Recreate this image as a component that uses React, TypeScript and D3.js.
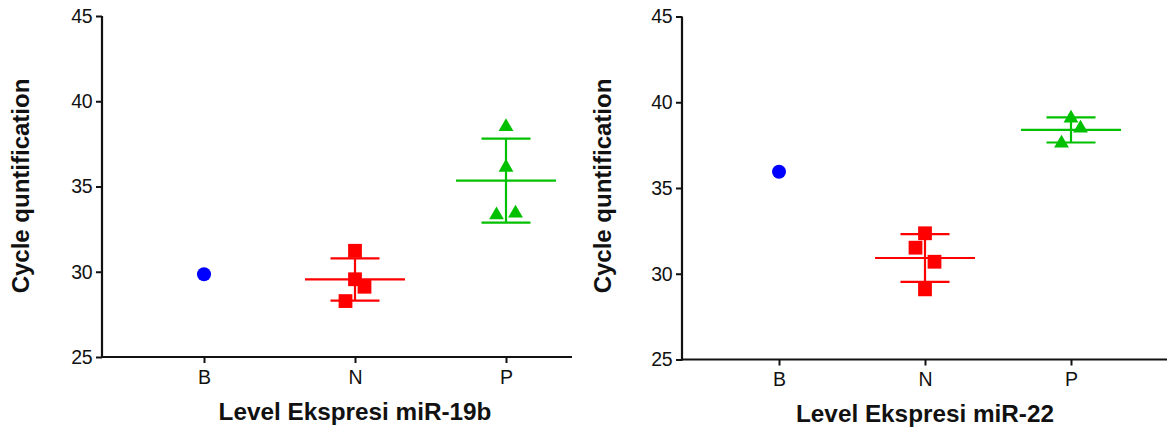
import React, { useEffect, useRef } from 'react';
import * as d3 from 'd3';

const FONT = '"Liberation Sans", Arial, Helvetica, sans-serif';

// categories and axis ticks
const categories = ['B', 'N', 'P'];
const yTicks = [25, 30, 35, 40, 45];

// miR-19b values (Cq)
const mir19bB = [29.85];
const mir19bN = [31.23, 29.56, 29.12, 28.28];
const mir19bP = [38.5, 36.12, 33.33, 33.43];

// miR-22 values (Cq)
const mir22B = [35.95];
const mir22N = [32.36, 31.52, 30.7, 29.09];
const mir22P = [39.07, 38.48, 37.61];

// column scatter slots (-1 left, 0 centre, 1 right)
const jit19bN = [0, 0, 1, -1];
const jit19bP = [0, 0, -1, 1];
const jit22N = [0, -1, 1, 0];
const jit22P = [0, 1, -1];

const colors = ['#0000ff', '#ff0000', '#00c000'];
const shapes = ['circle', 'square', 'triangle'];

const panels = [
  {
    title: 'Level Ekspresi miR-19b',
    axisX: 102, axisEnd: 572, top: 16, bottom: 357,
    catStart: 204, catEnd: 506, yTitleX: 29, xTitleY: 420,
    values: [mir19bB, mir19bN, mir19bP],
    jitter: [[0], jit19bN, jit19bP],
  },
  {
    title: 'Level Ekspresi miR-22',
    axisX: 682, axisEnd: 1167, top: 16.5, bottom: 359.5,
    catStart: 779, catEnd: 1071, yTitleX: 611, xTitleY: 422,
    values: [mir22B, mir22N, mir22P],
    jitter: [[0], jit22N, jit22P],
  },
];

const squarePath = d3.symbol().type(d3.symbolSquare).size(190)();
const trianglePath = d3.symbol().type(d3.symbolTriangle).size(95)();

function Marker({ shape, cx, cy, color }: any) {
  if (shape === 'circle') return <circle cx={cx} cy={cy} r={7} fill={color} />;
  const d = shape === 'square' ? squarePath : trianglePath;
  return <path d={d as string} transform={`translate(${cx},${cy})`} fill={color} />;
}

function Panel({ cfg }: any) {
  const xRef = useRef<SVGGElement>(null);
  const yRef = useRef<SVGGElement>(null);

  const x = d3.scalePoint<string>().domain(categories).range([cfg.catStart, cfg.catEnd]);
  const y = d3.scaleLinear()
    .domain([yTicks[0], yTicks[yTicks.length - 1]])
    .range([cfg.bottom, cfg.top]);
  const jitterStep = 9.5;
  const meanHalf = 50;
  const capHalf = 24.5;

  useEffect(() => {
    const gx = d3.select(xRef.current!)
      .call(d3.axisBottom(x).tickSize(6).tickPadding(7).tickSizeOuter(0) as any);
    gx.select('.domain').remove();
    gx.selectAll('line').attr('stroke', '#111').attr('stroke-width', 2);
    gx.selectAll('text').attr('font-size', 19.5).attr('font-family', FONT).attr('fill', '#111');

    const gy = d3.select(yRef.current!)
      .call(d3.axisLeft(y).tickValues(yTicks).tickSize(6).tickPadding(4).tickSizeOuter(0) as any);
    gy.select('.domain').remove();
    gy.selectAll('line').attr('stroke', '#111').attr('stroke-width', 2);
    gy.selectAll('text').attr('font-size', 19.5).attr('font-family', FONT).attr('fill', '#111')
      .attr('letter-spacing', -0.5);
  }, []);

  return (
    <g>
      {/* axis lines */}
      <line x1={cfg.axisX} y1={cfg.top} x2={cfg.axisX} y2={cfg.bottom + 1} stroke="#111" strokeWidth={2.2} />
      <line x1={cfg.axisX - 1} y1={cfg.bottom} x2={cfg.axisEnd} y2={cfg.bottom} stroke="#111" strokeWidth={2.2} />
      <g ref={xRef} transform={`translate(0,${cfg.bottom})`} />
      <g ref={yRef} transform={`translate(${cfg.axisX},0)`} />

      {categories.map((cat, i) => {
        const vals: number[] = cfg.values[i];
        const cx = x(cat)!;
        const m = d3.mean(vals)!;
        const sd = d3.deviation(vals);
        return (
          <g key={cat}>
            {sd !== undefined && (
              <g stroke={colors[i]} strokeWidth={2.2}>
                <line x1={cx} x2={cx} y1={y(m + sd)} y2={y(m - sd)} />
                <line x1={cx - capHalf} x2={cx + capHalf} y1={y(m + sd)} y2={y(m + sd)} />
                <line x1={cx - capHalf} x2={cx + capHalf} y1={y(m - sd)} y2={y(m - sd)} />
                <line x1={cx - meanHalf} x2={cx + meanHalf} y1={y(m)} y2={y(m)} />
              </g>
            )}
            {vals.map((v, j) => (
              <Marker key={j} shape={shapes[i]} color={colors[i]}
                cx={cx + cfg.jitter[i][j] * jitterStep} cy={y(v)} />
            ))}
          </g>
        );
      })}

      <text x={(x('N') as number)} y={cfg.xTitleY} textAnchor="middle" fontFamily={FONT}
        fontWeight="bold" fontSize={24.3} fill="#111">{cfg.title}</text>
      <text transform={`translate(${cfg.yTitleX},186) rotate(-90)`}
        textAnchor="middle" fontFamily={FONT} fontWeight="bold" fontSize={24} fill="#111">
        Cycle quntification
      </text>
    </g>
  );
}

export default function App() {
  return (
    <div style={{ position: 'absolute', left: 0, top: 0 }}>
      <svg width={1167} height={431} style={{ display: 'block', background: '#fff' }}>
        {panels.map((p, i) => <Panel key={i} cfg={p} />)}
      </svg>
    </div>
  );
}
